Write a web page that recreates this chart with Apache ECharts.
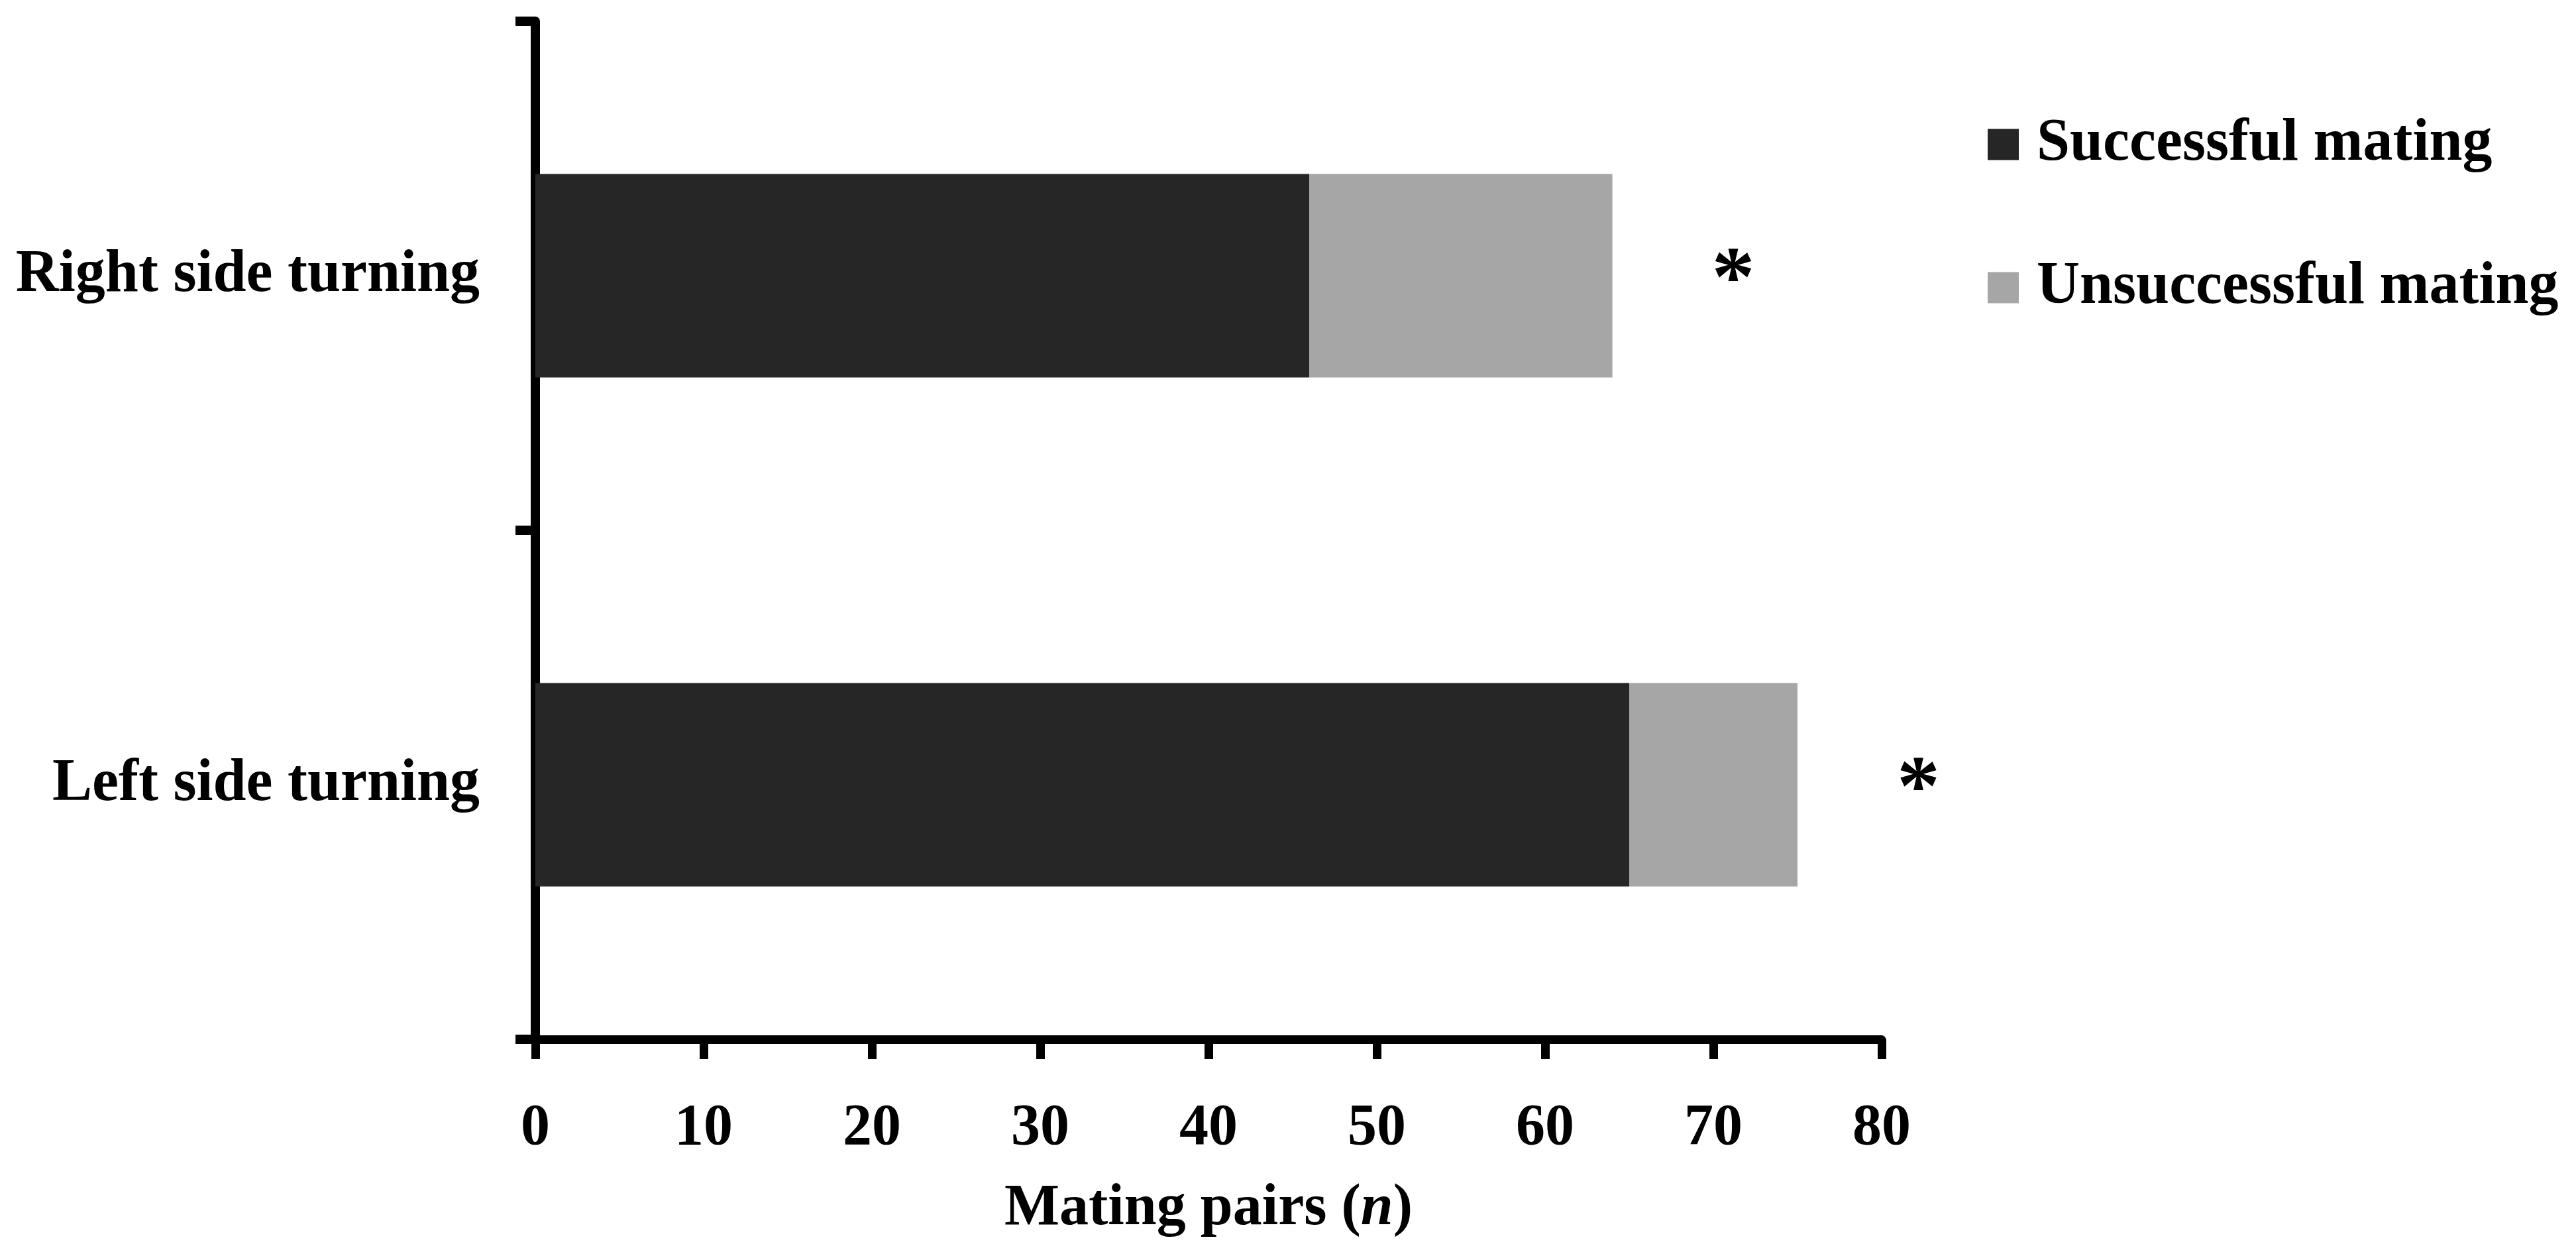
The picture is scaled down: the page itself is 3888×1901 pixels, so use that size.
<!DOCTYPE html>
<html>
<head>
<meta charset="utf-8">
<script src="https://cdn.jsdelivr.net/npm/echarts@6/dist/echarts.min.js"></script>
<style>
html,body{margin:0;padding:0;background:#fff;}
#chart{width:3888px;height:1901px;}
</style>
</head>
<body>
<div id="chart"></div>
<script>
// Data
const categories = ['Left side turning', 'Right side turning'];
const successful = [65, 46];
const unsuccessful = [10, 18];
const significance = ['*', '*'];
const seriesNames = ['Successful mating', 'Unsuccessful mating'];
const xTicks = [0, 10, 20, 30, 40, 50, 60, 70, 80];

const FONT = 'Liberation Serif';
const chart = echarts.init(document.getElementById('chart'), null, {renderer: 'canvas'});

chart.setOption({
  animation: false,
  backgroundColor: '#ffffff',
  textStyle: {fontFamily: FONT, color: '#000'},
  grid: {left: 808, right: 1048, top: 32, bottom: 333, containLabel: false},
  legend: {
    orient: 'vertical',
    left: 3000,
    top: 173,
    padding: 0,
    itemWidth: 47,
    itemHeight: 47,
    itemGap: 126,
    icon: 'rect',
    selectedMode: false,
    data: seriesNames,
    textStyle: {fontFamily: FONT, fontWeight: 'bold', fontSize: 90, color: '#000', lineHeight: 90, padding: [0, 0, 0, 22]}
  },
  xAxis: {
    type: 'value',
    min: xTicks[0],
    max: xTicks[xTicks.length - 1],
    interval: xTicks[1] - xTicks[0],
    name: '{b|Mating pairs (}{i|n}{b|)}',
    nameLocation: 'middle',
    nameGap: 212,
    nameTextStyle: {
      rich: {
        b: {fontFamily: FONT, fontWeight: 'bold', fontSize: 88, lineHeight: 88, color: '#000'},
        i: {fontFamily: FONT, fontWeight: 'bold', fontStyle: 'italic', fontSize: 88, lineHeight: 88, color: '#000'}
      }
    },
    axisLine: {show: true, lineStyle: {color: '#000', width: 13}},
    axisTick: {show: true, length: 30, lineStyle: {color: '#000', width: 13}},
    axisLabel: {fontFamily: FONT, fontWeight: 'bold', fontSize: 88, color: '#000', margin: 91},
    splitLine: {show: false}
  },
  yAxis: {
    type: 'category',
    data: categories,
    axisLine: {show: true, lineStyle: {color: '#000', width: 14}},
    axisTick: {show: true, length: 30, alignWithLabel: false, lineStyle: {color: '#000', width: 14}},
    axisLabel: {fontFamily: FONT, fontWeight: 'bold', fontSize: 90, color: '#000', margin: 84},
    splitLine: {show: false}
  },
  series: [
    {
      name: seriesNames[0],
      type: 'bar',
      stack: 'total',
      barCategoryGap: '60%',
      itemStyle: {color: '#262626'},
      data: successful
    },
    {
      name: seriesNames[1],
      type: 'bar',
      stack: 'total',
      barCategoryGap: '60%',
      itemStyle: {color: '#a6a6a6'},
      label: {
        show: true,
        position: 'right',
        distance: 150,
        offset: [0, 11],
        fontFamily: FONT,
        fontWeight: 'bold',
        fontSize: 130,
        color: '#000',
        formatter: function (p) { return significance[p.dataIndex]; }
      },
      data: unsuccessful
    }
  ]
});
</script>
</body>
</html>
